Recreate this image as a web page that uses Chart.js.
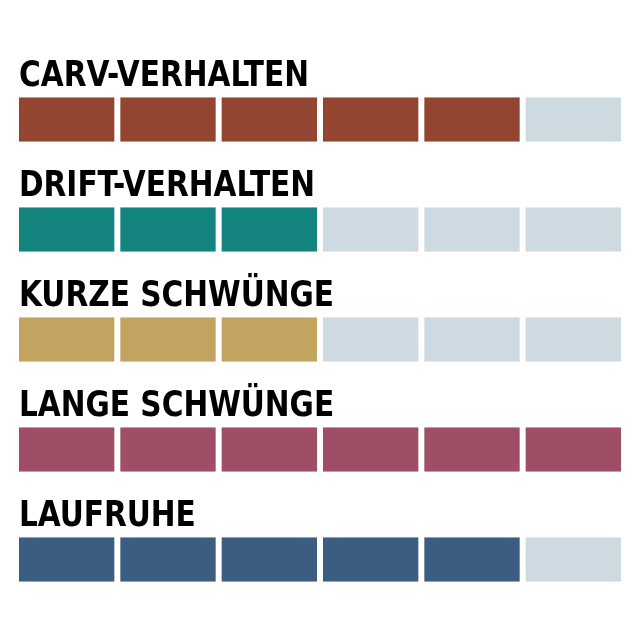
<!DOCTYPE html>
<html>
<head>
<meta charset="utf-8">
<script src="https://cdn.jsdelivr.net/npm/chart.js@4"></script>
<style>
html,body{margin:0;padding:0;background:#fff;}
#wrap{width:640px;height:640px;}
</style>
</head>
<body>
<div id="wrap"><canvas id="c" width="640" height="640"></canvas></div>
<script>
const categories = ['CARV-VERHALTEN', 'DRIFT-VERHALTEN', 'KURZE SCHWÜNGE', 'LANGE SCHWÜNGE', 'LAUFRUHE'];
const ratings = [5, 3, 3, 6, 5];
const maxRating = 6;
const fillColors = ['#944531', '#14847f', '#c2a35f', '#a04d66', '#3d5c81'];
const emptyColor = '#cedae2';

const datasets = [];
for (let i = 0; i < maxRating; i++) {
  datasets.push({
    label: 'Stufe ' + (i + 1),
    data: categories.map(() => 1),
    backgroundColor: ratings.map((r, j) => i < r ? fillColors[j] : emptyColor),
    borderColor: '#ffffff',
    borderWidth: {left: 3, right: 3, top: 0, bottom: 0},
    borderSkipped: false,
    inflateAmount: 0,
    barThickness: 44.5
  });
}

const labelPlugin = {
  id: 'rowLabels',
  afterDatasetsDraw(chart) {
    const ctx = chart.ctx;
    const meta = chart.getDatasetMeta(0);
    const x = chart.scales.x.getPixelForValue(0) + 3;
    const squeeze = 0.94;
    ctx.save();
    ctx.fillStyle = '#000';
    ctx.font = 'bold 35px "DejaVu Sans Condensed", "DejaVu Sans", sans-serif';
    ctx.textAlign = 'left';
    ctx.textBaseline = 'alphabetic';
    ctx.scale(squeeze, 1);
    meta.data.forEach((bar, i) => {
      const top = bar.y - bar.height / 2;
      ctx.fillText(categories[i], x / squeeze, top - 11.5);
    });
    ctx.restore();
  }
};

new Chart(document.getElementById('c'), {
  type: 'bar',
  data: { labels: categories, datasets },
  options: {
    indexAxis: 'y',
    responsive: false,
    animation: false,
    layout: { padding: { left: 16, right: 16, top: 64.5, bottom: 25.5 } },
    plugins: { legend: { display: false }, tooltip: { enabled: false } },
    scales: {
      x: { stacked: true, min: 0, max: maxRating, display: false },
      y: { stacked: true, display: false }
    }
  },
  plugins: [labelPlugin]
});
</script>
</body>
</html>
